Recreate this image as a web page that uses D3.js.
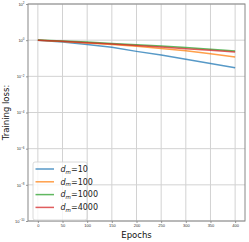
<!DOCTYPE html>
<html>
<head>
<meta charset="utf-8">
<script src="https://cdn.jsdelivr.net/npm/d3@7"></script>
<style>
  body { margin: 0; background: #fff; }
  svg { display: block; font-family: "DejaVu Sans", sans-serif; }
</style>
</head>
<body>
<div id="chart"></div>
<script>
const epochs = [0, 50, 100, 150, 200, 250, 300, 350, 400];
const loss10 = [1.0, 0.8, 0.58, 0.4, 0.24, 0.15, 0.088, 0.052, 0.03];
const loss100 = [1.0, 0.84, 0.7, 0.57, 0.46, 0.35, 0.26, 0.18, 0.117];
const loss1000 = [1.02, 0.9, 0.78, 0.66, 0.56, 0.47, 0.39, 0.31, 0.25];
const loss4000 = [0.98, 0.86, 0.73, 0.62, 0.51, 0.42, 0.34, 0.28, 0.22];
const dims = ["10", "100", "1000", "4000"];
const colors = ["#1f77b4", "#ff7f0e", "#2ca02c", "#d62728"];
const xTicks = [0, 50, 100, 150, 200, 250, 300, 350, 400];
const yExps = [2, 0, -2, -4, -6, -8, -10];

const series = [loss10, loss100, loss1000, loss4000];

const W = 249, H = 242;
const margin = { top: 4, right: 4, bottom: 21, left: 28 };
const width = W - margin.left - margin.right;
const height = H - margin.top - margin.bottom;

const svg = d3.select('#chart').append('svg')
  .attr('width', W).attr('height', H);
const g = svg.append('g')
  .attr('transform', `translate(${margin.left},${margin.top})`);

const x = d3.scaleLinear().domain([-20, 420]).range([0, width]);
const y = d3.scaleLog().domain([1e-10, 1e2]).range([height, 0]);

// Grid
g.append('g')
  .selectAll('line.gx').data(xTicks).enter().append('line')
  .attr('x1', d => x(d)).attr('x2', d => x(d))
  .attr('y1', 0).attr('y2', height)
  .attr('stroke', '#d2d2d2').attr('stroke-width', 1);
g.append('g')
  .selectAll('line.gy').data(yExps).enter().append('line')
  .attr('y1', d => y(Math.pow(10, d))).attr('y2', d => y(Math.pow(10, d)))
  .attr('x1', 0).attr('x2', width)
  .attr('stroke', '#d2d2d2').attr('stroke-width', 1);

// X axis
const xAxis = g.append('g')
  .attr('transform', `translate(0,${height})`)
  .call(d3.axisBottom(x).tickValues(xTicks).tickSize(2).tickPadding(1.5));
xAxis.select('.domain').remove();
xAxis.selectAll('line').attr('stroke', '#555').attr('stroke-width', 0.6);
xAxis.selectAll('text').attr('fill', '#333').style('font-size', '4px');

// Y axis
const yAxis = g.append('g')
  .call(d3.axisLeft(y).tickValues(yExps.map(e => Math.pow(10, e))).tickSize(2).tickPadding(1.5).tickFormat(''));
yAxis.select('.domain').remove();
yAxis.selectAll('line').attr('stroke', '#555').attr('stroke-width', 0.6);
yAxis.selectAll('.tick').append('text')
  .attr('x', -3.5).attr('dy', '0.32em')
  .attr('text-anchor', 'end')
  .attr('fill', '#333')
  .style('font-size', '4px')
  .each(function (d) {
    const t = d3.select(this);
    const e = Math.round(Math.log10(d));
    t.append('tspan').text('10');
    t.append('tspan').attr('dy', '-1.5').style('font-size', '3px')
      .text(e < 0 ? '\u2212' + (-e) : e);
  });

// Lines
const line = d3.line()
  .x((d, i) => x(epochs[i]))
  .y(d => y(d));

series.forEach((s, k) => {
  g.append('path')
    .datum(s)
    .attr('fill', 'none')
    .attr('stroke', colors[k])
    .attr('stroke-opacity', 0.75)
    .attr('stroke-width', 1.5)
    .attr('d', line);
});

// Frame
g.append('rect')
  .attr('x', 0).attr('y', 0).attr('width', width).attr('height', height)
  .attr('fill', 'none').attr('stroke', '#888').attr('stroke-width', 1);

// Legend
const lg = g.append('g').attr('transform', 'translate(5,158)');
lg.append('rect')
  .attr('x', 0).attr('y', 0).attr('width', 54).attr('height', 58)
  .attr('rx', 2)
  .attr('fill', '#fff').attr('fill-opacity', 0.8)
  .attr('stroke', '#d0d0d0').attr('stroke-width', 0.8);
dims.forEach((d, i) => {
  const yy = 7 + i * 12.8;
  lg.append('line')
    .attr('x1', 2.5).attr('x2', 21).attr('y1', yy).attr('y2', yy)
    .attr('stroke', colors[i]).attr('stroke-opacity', 0.75).attr('stroke-width', 1.5);
  const t = lg.append('text')
    .attr('x', 27.5).attr('y', yy).attr('dy', '0.35em')
    .attr('fill', '#222')
    .style('font-size', '8px');
  t.append('tspan').style('font-style', 'italic').text('d');
  t.append('tspan').attr('dy', 1.8).style('font-style', 'italic').style('font-size', '5.5px').text('m');
  t.append('tspan').attr('dy', -1.8).text('=' + d);
});

// Axis labels
svg.append('text')
  .attr('x', margin.left + width / 2).attr('y', 238)
  .attr('text-anchor', 'middle')
  .attr('fill', '#111')
  .style('font-size', '8.5px')
  .text('Epochs');
svg.append('text')
  .attr('transform', `translate(9,${margin.top + height / 2}) rotate(-90)`)
  .attr('text-anchor', 'middle')
  .attr('fill', '#111')
  .style('font-size', '8.5px')
  .text('Training loss:');
</script>
</body>
</html>
